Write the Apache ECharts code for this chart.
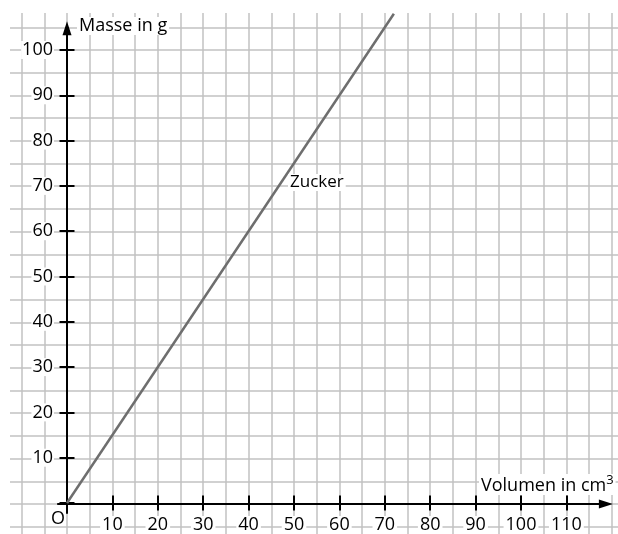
<!DOCTYPE html>
<html><head><meta charset="utf-8">
<script src="https://cdn.jsdelivr.net/npm/echarts@6/dist/echarts.min.js"></script>
<style>html,body{margin:0;padding:0;background:#fff}#c{width:618px;height:534px}</style>
</head><body><div id="c"></div>
<script>
// Data
const volumen = [0, 72];     // cm³
const masse   = [0, 108];    // g
const xTickLabels = [10, 20, 30, 40, 50, 60, 70, 80, 90, 100, 110];
const yTickLabels = [10, 20, 30, 40, 50, 60, 70, 80, 90, 100];
const seriesName = 'Zucker';
const xTitle = 'Volumen in cm';
const yTitle = 'Masse in g';

// layout helpers (pixel scale)
const W = 618, H = 534, OX = 67, OY = 504, K = 4.54;
const px = u => OX + K * u, py = v => OY - K * v;
function gridFor(x0, x1, y0, y1) {
  return { left: px(x0), right: W - px(x1), top: py(y1), bottom: H - py(y0), containLabel: false };
}
const FONT = '"Open Sans", "Noto Sans", sans-serif';
const gridColor = '#c2c2c2';
const tickStyle = { color: '#000', width: 2 };

const chart = echarts.init(document.getElementById('c'), null, { renderer: 'canvas' });
const hidden = { show: false };
chart.setOption({
  animation: false,
  grid: [
    { left: px(-10), right: W - px(120), top: 13, bottom: 0 },
    { left: 10, right: 0, top: py(105), bottom: H - py(-5) },
    gridFor(-2, 118.7, -2, 104.8),
    gridFor(0, 110, 0, 100)
  ],
  xAxis: [
    { gridIndex: 0, type: 'value', min: -10, max: 120, interval: 5,
      axisLine: hidden, axisTick: hidden, axisLabel: hidden,
      splitLine: { show: true, lineStyle: { color: gridColor, width: 1.5 } } },
    { gridIndex: 1, type: 'value', min: 0, max: 1, show: false, splitLine: hidden },
    { gridIndex: 2, type: 'value', min: -2, max: 118.7,
      axisLine: { show: true, onZero: true, lineStyle: { color: '#000', width: 2 },
        symbol: ['none', 'triangle'], symbolSize: [9, 14] },
      axisTick: hidden, axisLabel: hidden, splitLine: hidden },
    { gridIndex: 3, type: 'value', position: 'bottom', min: 0, max: 110, interval: 10,
      axisLine: { show: false, onZero: false },
      axisTick: { show: true, inside: false, length: 7.5, lineStyle: tickStyle },
      axisLabel: { show: true, margin: 13, color: '#000', fontSize: 18, fontFamily: FONT,
        backgroundColor: '#fff', padding: [0, 2],
        formatter: v => xTickLabels.includes(v) ? String(v) : '' },
      splitLine: hidden },
    { gridIndex: 3, type: 'value', position: 'bottom', min: 0, max: 110, interval: 10,
      axisLine: { show: false, onZero: false },
      axisTick: { show: true, inside: true, length: 7.5, lineStyle: tickStyle },
      axisLabel: hidden, splitLine: hidden }
  ],
  yAxis: [
    { gridIndex: 0, type: 'value', min: 0, max: 1, show: false, splitLine: hidden },
    { gridIndex: 1, type: 'value', min: -5, max: 105, interval: 5,
      axisLine: hidden, axisTick: hidden, axisLabel: hidden,
      splitLine: { show: true, lineStyle: { color: gridColor, width: 1.5 } } },
    { gridIndex: 2, type: 'value', min: -2, max: 104.8,
      axisLine: { show: true, onZero: true, lineStyle: { color: '#000', width: 2 },
        symbol: ['none', 'triangle'], symbolSize: [9, 14] },
      axisTick: hidden, axisLabel: hidden, splitLine: hidden },
    { gridIndex: 3, type: 'value', position: 'left', min: 0, max: 100, interval: 10,
      axisLine: { show: false, onZero: false },
      axisTick: { show: true, inside: false, length: 7.5, lineStyle: tickStyle },
      axisLabel: { show: true, margin: 13, color: '#000', fontSize: 18, fontFamily: FONT,
        backgroundColor: '#fff', padding: [0, 1],
        formatter: v => yTickLabels.includes(v) ? String(v) : '' },
      splitLine: hidden },
    { gridIndex: 3, type: 'value', position: 'left', min: 0, max: 100, interval: 10,
      axisLine: { show: false, onZero: false },
      axisTick: { show: true, inside: true, length: 7.5, lineStyle: tickStyle },
      axisLabel: hidden, splitLine: hidden }
  ],
  series: [{
    name: seriesName, type: 'line', xAxisIndex: 3, yAxisIndex: 3,
    data: volumen.map((v, i) => [v, masse[i]]),
    showSymbol: false, symbol: 'none', clip: false,
    lineStyle: { color: '#6e6e6e', width: 2.5 }, z: 5
  }],
  graphic: [
    { type: 'text', left: 77, top: 17, z: 10,
      style: { text: yTitle, fill: '#000', font: '18px ' + FONT, backgroundColor: '#fff', padding: [0, 2] } },
    { type: 'text', left: 479, top: 474, z: 10,
      style: { text: '{a|' + xTitle + '}{s|3}', fill: '#000', backgroundColor: '#fff', padding: [0, 2],
        rich: { a: { font: '18px ' + FONT, fill: '#000', verticalAlign: 'bottom' },
                s: { font: '13px ' + FONT, fill: '#000', verticalAlign: 'top', padding: [0, 0, 8, 0] } } } },
    { type: 'text', left: 288, top: 174, z: 10,
      style: { text: seriesName, fill: '#000', font: '17px ' + FONT, backgroundColor: '#fff', padding: [0, 2] } },
    { type: 'text', left: 51, top: 510, z: 10,
      style: { text: 'O', fill: '#000', font: '18px ' + FONT } }
  ]
});
</script></body></html>
